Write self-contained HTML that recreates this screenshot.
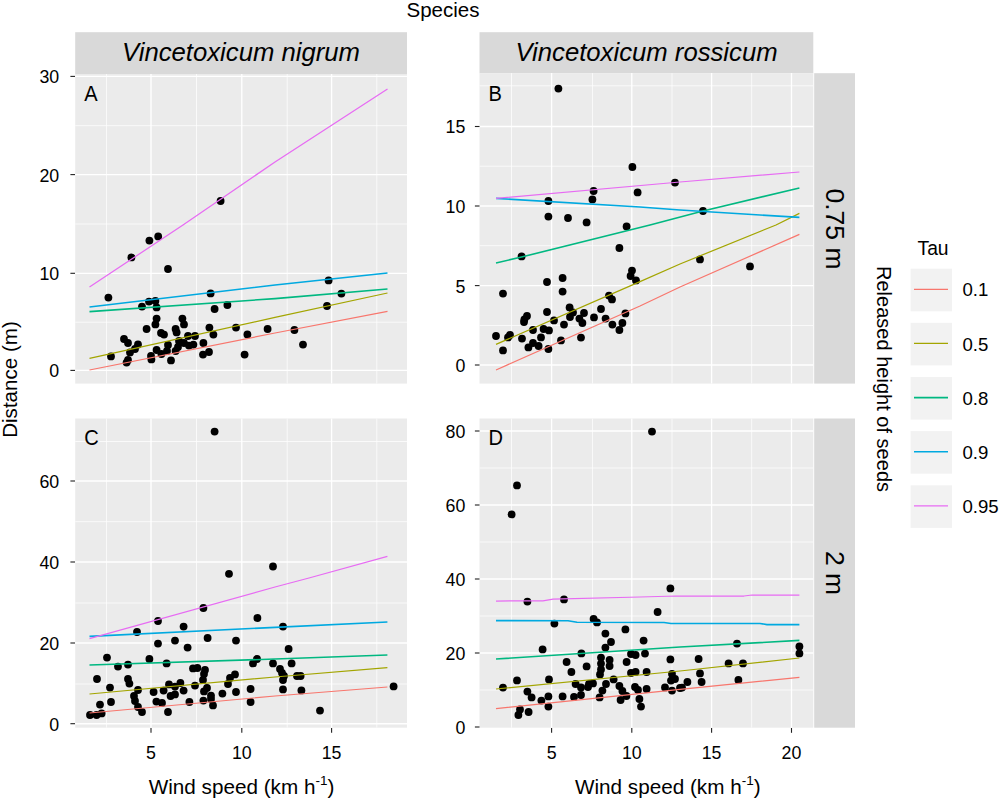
<!DOCTYPE html>
<html><head><meta charset="utf-8"><title>Quantile regression of seed dispersal</title>
<style>
html,body{margin:0;padding:0;background:#fff;}
body{width:1000px;height:800px;overflow:hidden;font-family:"Liberation Sans",sans-serif;}
svg{display:block;font-family:"Liberation Sans",sans-serif;}
text{fill:#000;}
.tick text{font-size:17.8px;fill:#000;}
</style></head><body>
<svg width="1000" height="800" viewBox="0 0 1000 800">
<rect x="0" y="0" width="1000" height="800" fill="#fff"/>
<rect x="75.2" y="32.2" width="331.8" height="42" fill="#D9D9D9"/>
<rect x="479.5" y="32.2" width="333.8" height="41" fill="#D9D9D9"/>
<rect x="814.2" y="73.2" width="40.8" height="310.4" fill="#D9D9D9"/>
<rect x="814.2" y="418.5" width="40.8" height="309.2" fill="#D9D9D9"/>
<text x="241" y="61.3" font-size="25.7" font-style="italic" text-anchor="middle">Vincetoxicum nigrum</text>
<text x="646.5" y="61.3" font-size="25.7" font-style="italic" text-anchor="middle">Vincetoxicum rossicum</text>
<text transform="translate(826,229) rotate(90)" font-size="26.5" text-anchor="middle">0.75 m</text>
<text transform="translate(826,573) rotate(90)" font-size="26.5" text-anchor="middle">2 m</text>
<text x="443" y="17" font-size="20.5" text-anchor="middle">Species</text>
<rect x="75.2" y="74.0" width="331.8" height="309.6" fill="#EBEBEB"/>
<g stroke="#fff" stroke-width="0.8" opacity="0.95">
<line x1="106.6" y1="74.0" x2="106.6" y2="383.6"/>
<line x1="196.5" y1="74.0" x2="196.5" y2="383.6"/>
<line x1="287.2" y1="74.0" x2="287.2" y2="383.6"/>
<line x1="376.8" y1="74.0" x2="376.8" y2="383.6"/>
<line x1="75.2" y1="125.7" x2="407" y2="125.7"/>
<line x1="75.2" y1="224" x2="407" y2="224"/>
<line x1="75.2" y1="322.2" x2="407" y2="322.2"/>
</g><g stroke="#fff" stroke-width="1.35">
<line x1="151" y1="74.0" x2="151" y2="383.6"/>
<line x1="241.8" y1="74.0" x2="241.8" y2="383.6"/>
<line x1="331.6" y1="74.0" x2="331.6" y2="383.6"/>
<line x1="75.2" y1="76.4" x2="407" y2="76.4"/>
<line x1="75.2" y1="174.6" x2="407" y2="174.6"/>
<line x1="75.2" y1="273.3" x2="407" y2="273.3"/>
<line x1="75.2" y1="370.4" x2="407" y2="370.4"/>
</g>
<g fill="#000">
<circle cx="149.4" cy="240.6" r="3.9"/>
<circle cx="158.2" cy="236.4" r="3.9"/>
<circle cx="131.4" cy="257.4" r="3.9"/>
<circle cx="168" cy="269" r="3.9"/>
<circle cx="108.4" cy="297.6" r="3.9"/>
<circle cx="210.6" cy="293.4" r="3.9"/>
<circle cx="149" cy="301.6" r="3.9"/>
<circle cx="155.4" cy="301" r="3.9"/>
<circle cx="142" cy="306.6" r="3.9"/>
<circle cx="156.6" cy="307.4" r="3.9"/>
<circle cx="227.4" cy="305" r="3.9"/>
<circle cx="214.6" cy="309" r="3.9"/>
<circle cx="156.6" cy="318.6" r="3.9"/>
<circle cx="155.4" cy="324.4" r="3.9"/>
<circle cx="182.4" cy="318.6" r="3.9"/>
<circle cx="184" cy="324.4" r="3.9"/>
<circle cx="146.6" cy="329" r="3.9"/>
<circle cx="175.6" cy="329" r="3.9"/>
<circle cx="176.6" cy="332.4" r="3.9"/>
<circle cx="161" cy="333" r="3.9"/>
<circle cx="164" cy="334.6" r="3.9"/>
<circle cx="209.4" cy="327.6" r="3.9"/>
<circle cx="213.4" cy="334.6" r="3.9"/>
<circle cx="236" cy="327.6" r="3.9"/>
<circle cx="247.4" cy="334.4" r="3.9"/>
<circle cx="267.6" cy="329" r="3.9"/>
<circle cx="124" cy="339" r="3.9"/>
<circle cx="128" cy="343" r="3.9"/>
<circle cx="138" cy="344.4" r="3.9"/>
<circle cx="135" cy="349" r="3.9"/>
<circle cx="130" cy="352.4" r="3.9"/>
<circle cx="111" cy="356.4" r="3.9"/>
<circle cx="128" cy="360" r="3.9"/>
<circle cx="126.6" cy="362.6" r="3.9"/>
<circle cx="151" cy="356" r="3.9"/>
<circle cx="151.4" cy="359.4" r="3.9"/>
<circle cx="156.6" cy="350" r="3.9"/>
<circle cx="161.4" cy="354" r="3.9"/>
<circle cx="167" cy="351" r="3.9"/>
<circle cx="168" cy="345" r="3.9"/>
<circle cx="171" cy="360.4" r="3.9"/>
<circle cx="175.6" cy="351" r="3.9"/>
<circle cx="178" cy="347" r="3.9"/>
<circle cx="179" cy="341" r="3.9"/>
<circle cx="184" cy="343" r="3.9"/>
<circle cx="188" cy="336" r="3.9"/>
<circle cx="195" cy="336" r="3.9"/>
<circle cx="189" cy="345.6" r="3.9"/>
<circle cx="193.4" cy="344.6" r="3.9"/>
<circle cx="203.4" cy="343" r="3.9"/>
<circle cx="203" cy="354.6" r="3.9"/>
<circle cx="209" cy="352" r="3.9"/>
<circle cx="244.6" cy="354.6" r="3.9"/>
<circle cx="220.6" cy="201" r="3.9"/>
<circle cx="328.6" cy="280.4" r="3.9"/>
<circle cx="341.4" cy="293.6" r="3.9"/>
<circle cx="327" cy="306" r="3.9"/>
<circle cx="294.4" cy="330" r="3.9"/>
<circle cx="303" cy="344.6" r="3.9"/>
</g>
<g fill="none" stroke-linejoin="round">
<polyline points="89.5,370 275,333 387.5,311.4" stroke="#F8766D" stroke-width="1.2"/>
<polyline points="89.5,358.4 275,317.4 387.5,293" stroke="#A3A500" stroke-width="1.25"/>
<polyline points="89.5,311.6 275,298.6 387.5,289" stroke="#00B881" stroke-width="1.6"/>
<polyline points="89.5,307 275,285 387.5,273" stroke="#00A9E0" stroke-width="1.6"/>
<polyline points="89.5,287 183,225 275,162 387.5,89" stroke="#E76BF3" stroke-width="1.25"/>
</g>
<text transform="translate(84.2,101) scale(0.9,1)" font-size="22.3">A</text>
<rect x="479.5" y="73.1" width="333.79999999999995" height="310.5" fill="#EBEBEB"/>
<g stroke="#fff" stroke-width="0.8" opacity="0.95">
<line x1="511.5" y1="73.1" x2="511.5" y2="383.6"/>
<line x1="592.6" y1="73.1" x2="592.6" y2="383.6"/>
<line x1="672" y1="73.1" x2="672" y2="383.6"/>
<line x1="751.7" y1="73.1" x2="751.7" y2="383.6"/>
<line x1="479.5" y1="85.8" x2="813.3" y2="85.8"/>
<line x1="479.5" y1="166.2" x2="813.3" y2="166.2"/>
<line x1="479.5" y1="245.7" x2="813.3" y2="245.7"/>
<line x1="479.5" y1="325.6" x2="813.3" y2="325.6"/>
</g><g stroke="#fff" stroke-width="1.35">
<line x1="551.6" y1="73.1" x2="551.6" y2="383.6"/>
<line x1="631.8" y1="73.1" x2="631.8" y2="383.6"/>
<line x1="711.6" y1="73.1" x2="711.6" y2="383.6"/>
<line x1="791.5" y1="73.1" x2="791.5" y2="383.6"/>
<line x1="479.5" y1="126.5" x2="813.3" y2="126.5"/>
<line x1="479.5" y1="206" x2="813.3" y2="206"/>
<line x1="479.5" y1="285.6" x2="813.3" y2="285.6"/>
<line x1="479.5" y1="365" x2="813.3" y2="365"/>
</g>
<g fill="#000">
<circle cx="558.4" cy="88.6" r="3.9"/>
<circle cx="632.4" cy="167" r="3.9"/>
<circle cx="675" cy="182.6" r="3.9"/>
<circle cx="593.6" cy="191" r="3.9"/>
<circle cx="637.6" cy="192.4" r="3.9"/>
<circle cx="592.4" cy="199.4" r="3.9"/>
<circle cx="548.4" cy="201" r="3.9"/>
<circle cx="548.4" cy="216.6" r="3.9"/>
<circle cx="568" cy="218" r="3.9"/>
<circle cx="586.6" cy="222.4" r="3.9"/>
<circle cx="626.6" cy="226.4" r="3.9"/>
<circle cx="703" cy="211" r="3.9"/>
<circle cx="619.4" cy="248" r="3.9"/>
<circle cx="521.6" cy="256.4" r="3.9"/>
<circle cx="632" cy="270.6" r="3.9"/>
<circle cx="630.6" cy="276" r="3.9"/>
<circle cx="636" cy="280.4" r="3.9"/>
<circle cx="562.6" cy="278" r="3.9"/>
<circle cx="547" cy="282" r="3.9"/>
<circle cx="562.6" cy="291.6" r="3.9"/>
<circle cx="503" cy="293.6" r="3.9"/>
<circle cx="609" cy="295.6" r="3.9"/>
<circle cx="612" cy="299.4" r="3.9"/>
<circle cx="569.6" cy="307.4" r="3.9"/>
<circle cx="547" cy="312" r="3.9"/>
<circle cx="601" cy="309" r="3.9"/>
<circle cx="573" cy="312.4" r="3.9"/>
<circle cx="584" cy="313" r="3.9"/>
<circle cx="625.4" cy="313.4" r="3.9"/>
<circle cx="527" cy="316" r="3.9"/>
<circle cx="524.4" cy="319.4" r="3.9"/>
<circle cx="524" cy="322" r="3.9"/>
<circle cx="570" cy="317" r="3.9"/>
<circle cx="594" cy="317.4" r="3.9"/>
<circle cx="579.4" cy="318.6" r="3.9"/>
<circle cx="605.6" cy="318.6" r="3.9"/>
<circle cx="554" cy="320.4" r="3.9"/>
<circle cx="582.4" cy="323" r="3.9"/>
<circle cx="564" cy="324.6" r="3.9"/>
<circle cx="612.4" cy="324.6" r="3.9"/>
<circle cx="622.4" cy="323" r="3.9"/>
<circle cx="619.4" cy="330" r="3.9"/>
<circle cx="533" cy="330" r="3.9"/>
<circle cx="543.6" cy="329" r="3.9"/>
<circle cx="549" cy="330.4" r="3.9"/>
<circle cx="496" cy="336" r="3.9"/>
<circle cx="510" cy="335" r="3.9"/>
<circle cx="508" cy="337.4" r="3.9"/>
<circle cx="522" cy="338.6" r="3.9"/>
<circle cx="541" cy="337.4" r="3.9"/>
<circle cx="581" cy="337.6" r="3.9"/>
<circle cx="561" cy="340.4" r="3.9"/>
<circle cx="533" cy="343" r="3.9"/>
<circle cx="538.6" cy="346" r="3.9"/>
<circle cx="528.4" cy="347.4" r="3.9"/>
<circle cx="548.4" cy="349" r="3.9"/>
<circle cx="503" cy="350.4" r="3.9"/>
<circle cx="700" cy="259.4" r="3.9"/>
<circle cx="750" cy="266.4" r="3.9"/>
</g>
<g fill="none" stroke-linejoin="round">
<polyline points="496,370 640,306 680,287 799.4,234.4" stroke="#F8766D" stroke-width="1.2"/>
<polyline points="496,344.4 640,281.6 680,264 776,225 799.4,213.4" stroke="#A3A500" stroke-width="1.25"/>
<polyline points="496,263 521.6,257 650,225 703,211 799.4,188" stroke="#00B881" stroke-width="1.6"/>
<polyline points="496,198.4 640,207 680,210 799.4,217.4" stroke="#00A9E0" stroke-width="1.6"/>
<polyline points="496,198.4 680,182 799.4,172" stroke="#E76BF3" stroke-width="1.25"/>
</g>
<text transform="translate(488.5,101) scale(0.9,1)" font-size="22.3">B</text>
<rect x="75.2" y="418.5" width="331.8" height="309.20000000000005" fill="#EBEBEB"/>
<g stroke="#fff" stroke-width="0.8" opacity="0.95">
<line x1="106.6" y1="418.5" x2="106.6" y2="727.7"/>
<line x1="196.5" y1="418.5" x2="196.5" y2="727.7"/>
<line x1="287.2" y1="418.5" x2="287.2" y2="727.7"/>
<line x1="376.8" y1="418.5" x2="376.8" y2="727.7"/>
<line x1="75.2" y1="441.5" x2="407" y2="441.5"/>
<line x1="75.2" y1="521.7" x2="407" y2="521.7"/>
<line x1="75.2" y1="603" x2="407" y2="603"/>
<line x1="75.2" y1="684" x2="407" y2="684"/>
</g><g stroke="#fff" stroke-width="1.35">
<line x1="151" y1="418.5" x2="151" y2="727.7"/>
<line x1="241.8" y1="418.5" x2="241.8" y2="727.7"/>
<line x1="331.6" y1="418.5" x2="331.6" y2="727.7"/>
<line x1="75.2" y1="481" x2="407" y2="481"/>
<line x1="75.2" y1="562" x2="407" y2="562"/>
<line x1="75.2" y1="643" x2="407" y2="643"/>
<line x1="75.2" y1="723.7" x2="407" y2="723.7"/>
</g>
<g fill="#000">
<circle cx="214.6" cy="431.6" r="3.9"/>
<circle cx="229" cy="573.8" r="3.9"/>
<circle cx="273" cy="566.5" r="3.9"/>
<circle cx="203.4" cy="608" r="3.9"/>
<circle cx="257.4" cy="618" r="3.9"/>
<circle cx="158" cy="621" r="3.9"/>
<circle cx="183.6" cy="626.6" r="3.9"/>
<circle cx="137" cy="632" r="3.9"/>
<circle cx="207.6" cy="638" r="3.9"/>
<circle cx="236" cy="640.6" r="3.9"/>
<circle cx="175" cy="640.6" r="3.9"/>
<circle cx="158" cy="643.6" r="3.9"/>
<circle cx="187.6" cy="647.6" r="3.9"/>
<circle cx="107" cy="657.6" r="3.9"/>
<circle cx="149.4" cy="659" r="3.9"/>
<circle cx="257" cy="659" r="3.9"/>
<circle cx="253" cy="663.4" r="3.9"/>
<circle cx="273" cy="663.4" r="3.9"/>
<circle cx="166.6" cy="663.4" r="3.9"/>
<circle cx="128" cy="664.6" r="3.9"/>
<circle cx="118" cy="666.6" r="3.9"/>
<circle cx="193" cy="668.4" r="3.9"/>
<circle cx="197.4" cy="668" r="3.9"/>
<circle cx="205" cy="670" r="3.9"/>
<circle cx="204" cy="674" r="3.9"/>
<circle cx="235" cy="674.4" r="3.9"/>
<circle cx="230" cy="678" r="3.9"/>
<circle cx="97" cy="679" r="3.9"/>
<circle cx="128" cy="679" r="3.9"/>
<circle cx="203" cy="680" r="3.9"/>
<circle cx="129.4" cy="683.6" r="3.9"/>
<circle cx="169" cy="684.4" r="3.9"/>
<circle cx="180.4" cy="683" r="3.9"/>
<circle cx="228" cy="684" r="3.9"/>
<circle cx="195" cy="685.6" r="3.9"/>
<circle cx="110" cy="687.6" r="3.9"/>
<circle cx="175" cy="686.6" r="3.9"/>
<circle cx="207" cy="688" r="3.9"/>
<circle cx="138" cy="690" r="3.9"/>
<circle cx="163.6" cy="690.6" r="3.9"/>
<circle cx="183.6" cy="690.6" r="3.9"/>
<circle cx="204" cy="691.4" r="3.9"/>
<circle cx="153.6" cy="692" r="3.9"/>
<circle cx="250.6" cy="689" r="3.9"/>
<circle cx="236" cy="692" r="3.9"/>
<circle cx="222.4" cy="693.6" r="3.9"/>
<circle cx="175" cy="694.4" r="3.9"/>
<circle cx="170.6" cy="696" r="3.9"/>
<circle cx="134" cy="696" r="3.9"/>
<circle cx="211" cy="695.6" r="3.9"/>
<circle cx="211" cy="699" r="3.9"/>
<circle cx="203.4" cy="700.6" r="3.9"/>
<circle cx="135" cy="701" r="3.9"/>
<circle cx="156.4" cy="701.6" r="3.9"/>
<circle cx="162" cy="703" r="3.9"/>
<circle cx="189.4" cy="702" r="3.9"/>
<circle cx="250.6" cy="702" r="3.9"/>
<circle cx="111" cy="702" r="3.9"/>
<circle cx="100" cy="704.6" r="3.9"/>
<circle cx="213" cy="705.4" r="3.9"/>
<circle cx="138" cy="707" r="3.9"/>
<circle cx="142" cy="712" r="3.9"/>
<circle cx="168" cy="712" r="3.9"/>
<circle cx="90" cy="715" r="3.9"/>
<circle cx="96.6" cy="715" r="3.9"/>
<circle cx="101.6" cy="713.4" r="3.9"/>
<circle cx="283" cy="626.6" r="3.9"/>
<circle cx="288.6" cy="649" r="3.9"/>
<circle cx="291.6" cy="663.4" r="3.9"/>
<circle cx="280" cy="669" r="3.9"/>
<circle cx="282" cy="673" r="3.9"/>
<circle cx="284" cy="676" r="3.9"/>
<circle cx="283" cy="680" r="3.9"/>
<circle cx="297" cy="676" r="3.9"/>
<circle cx="300.6" cy="676" r="3.9"/>
<circle cx="283" cy="689.4" r="3.9"/>
<circle cx="301.4" cy="690.4" r="3.9"/>
<circle cx="320" cy="710.6" r="3.9"/>
<circle cx="393.6" cy="686.4" r="3.9"/>
</g>
<g fill="none" stroke-linejoin="round">
<polyline points="89.5,713 275,696 387.4,687" stroke="#F8766D" stroke-width="1.2"/>
<polyline points="89.5,694 275,677 387.4,667.6" stroke="#A3A500" stroke-width="1.25"/>
<polyline points="89.5,665 275,659 387.4,655" stroke="#00B881" stroke-width="1.6"/>
<polyline points="89.5,636.4 275,627.4 387.4,622" stroke="#00A9E0" stroke-width="1.6"/>
<polyline points="89.5,638.6 275,587 309,578 387.4,556.4" stroke="#E76BF3" stroke-width="1.25"/>
</g>
<text transform="translate(84.2,445.2) scale(0.9,1)" font-size="22.3">C</text>
<rect x="479.5" y="418.5" width="333.79999999999995" height="309.20000000000005" fill="#EBEBEB"/>
<g stroke="#fff" stroke-width="0.8" opacity="0.95">
<line x1="511.5" y1="418.5" x2="511.5" y2="727.7"/>
<line x1="592.6" y1="418.5" x2="592.6" y2="727.7"/>
<line x1="672" y1="418.5" x2="672" y2="727.7"/>
<line x1="751.7" y1="418.5" x2="751.7" y2="727.7"/>
<line x1="479.5" y1="468" x2="813.3" y2="468"/>
<line x1="479.5" y1="542" x2="813.3" y2="542"/>
<line x1="479.5" y1="616" x2="813.3" y2="616"/>
<line x1="479.5" y1="690" x2="813.3" y2="690"/>
</g><g stroke="#fff" stroke-width="1.35">
<line x1="551.6" y1="418.5" x2="551.6" y2="727.7"/>
<line x1="631.8" y1="418.5" x2="631.8" y2="727.7"/>
<line x1="711.6" y1="418.5" x2="711.6" y2="727.7"/>
<line x1="791.5" y1="418.5" x2="791.5" y2="727.7"/>
<line x1="479.5" y1="431" x2="813.3" y2="431"/>
<line x1="479.5" y1="505" x2="813.3" y2="505"/>
<line x1="479.5" y1="579" x2="813.3" y2="579"/>
<line x1="479.5" y1="653" x2="813.3" y2="653"/>
</g>
<g fill="#000">
<circle cx="652" cy="431.6" r="3.9"/>
<circle cx="517" cy="485.4" r="3.9"/>
<circle cx="511.6" cy="514.4" r="3.9"/>
<circle cx="670.4" cy="588.4" r="3.9"/>
<circle cx="527.4" cy="601.6" r="3.9"/>
<circle cx="564" cy="599.4" r="3.9"/>
<circle cx="657.6" cy="612" r="3.9"/>
<circle cx="593.6" cy="619" r="3.9"/>
<circle cx="597" cy="622.4" r="3.9"/>
<circle cx="554.4" cy="623.6" r="3.9"/>
<circle cx="625.4" cy="629.4" r="3.9"/>
<circle cx="605.4" cy="633.6" r="3.9"/>
<circle cx="643.6" cy="640.6" r="3.9"/>
<circle cx="611" cy="642" r="3.9"/>
<circle cx="605.4" cy="647.6" r="3.9"/>
<circle cx="542.6" cy="649.4" r="3.9"/>
<circle cx="581.4" cy="653.4" r="3.9"/>
<circle cx="631" cy="654" r="3.9"/>
<circle cx="635.6" cy="655" r="3.9"/>
<circle cx="645" cy="653.6" r="3.9"/>
<circle cx="601" cy="657.6" r="3.9"/>
<circle cx="609.6" cy="660" r="3.9"/>
<circle cx="670.4" cy="659.4" r="3.9"/>
<circle cx="566.6" cy="662" r="3.9"/>
<circle cx="626.6" cy="662" r="3.9"/>
<circle cx="601" cy="663.6" r="3.9"/>
<circle cx="609.6" cy="666" r="3.9"/>
<circle cx="586.6" cy="666.4" r="3.9"/>
<circle cx="601" cy="669.4" r="3.9"/>
<circle cx="571.4" cy="672" r="3.9"/>
<circle cx="600" cy="674.4" r="3.9"/>
<circle cx="631" cy="673" r="3.9"/>
<circle cx="635.6" cy="672" r="3.9"/>
<circle cx="646.6" cy="672" r="3.9"/>
<circle cx="672" cy="674" r="3.9"/>
<circle cx="549" cy="679.4" r="3.9"/>
<circle cx="517" cy="680.4" r="3.9"/>
<circle cx="613.6" cy="679.4" r="3.9"/>
<circle cx="675" cy="679" r="3.9"/>
<circle cx="671" cy="680.6" r="3.9"/>
<circle cx="575.6" cy="684" r="3.9"/>
<circle cx="589" cy="684" r="3.9"/>
<circle cx="593" cy="683.4" r="3.9"/>
<circle cx="606" cy="684" r="3.9"/>
<circle cx="588" cy="687" r="3.9"/>
<circle cx="581" cy="687.4" r="3.9"/>
<circle cx="619.4" cy="686" r="3.9"/>
<circle cx="635" cy="687" r="3.9"/>
<circle cx="665" cy="687.4" r="3.9"/>
<circle cx="503" cy="687.6" r="3.9"/>
<circle cx="646.6" cy="689" r="3.9"/>
<circle cx="638" cy="690" r="3.9"/>
<circle cx="622.4" cy="691" r="3.9"/>
<circle cx="602.4" cy="690.6" r="3.9"/>
<circle cx="672" cy="690.6" r="3.9"/>
<circle cx="527.4" cy="691.6" r="3.9"/>
<circle cx="581" cy="695" r="3.9"/>
<circle cx="626.4" cy="696" r="3.9"/>
<circle cx="548.4" cy="696.4" r="3.9"/>
<circle cx="562.6" cy="696.4" r="3.9"/>
<circle cx="574" cy="697" r="3.9"/>
<circle cx="599.6" cy="697.4" r="3.9"/>
<circle cx="531.6" cy="697.4" r="3.9"/>
<circle cx="639.4" cy="699" r="3.9"/>
<circle cx="620.6" cy="700" r="3.9"/>
<circle cx="541.4" cy="700.6" r="3.9"/>
<circle cx="641" cy="706.6" r="3.9"/>
<circle cx="548.4" cy="706.6" r="3.9"/>
<circle cx="520" cy="709.4" r="3.9"/>
<circle cx="528.6" cy="712" r="3.9"/>
<circle cx="518.4" cy="715" r="3.9"/>
<circle cx="680" cy="688" r="3.9"/>
<circle cx="687.4" cy="682" r="3.9"/>
<circle cx="682" cy="687.6" r="3.9"/>
<circle cx="698.6" cy="659" r="3.9"/>
<circle cx="700" cy="673.4" r="3.9"/>
<circle cx="701.6" cy="682" r="3.9"/>
<circle cx="728.6" cy="663.4" r="3.9"/>
<circle cx="743" cy="663.4" r="3.9"/>
<circle cx="737" cy="643.6" r="3.9"/>
<circle cx="738.4" cy="680" r="3.9"/>
<circle cx="799.4" cy="646.4" r="3.9"/>
<circle cx="799.4" cy="653.4" r="3.9"/>
</g>
<g fill="none" stroke-linejoin="round">
<polyline points="496,708.6 680,689.4 799.4,677.4" stroke="#F8766D" stroke-width="1.2"/>
<polyline points="496,689 680,671 799.4,658" stroke="#A3A500" stroke-width="1.25"/>
<polyline points="496,659 680,647 799.4,640.4" stroke="#00B881" stroke-width="1.6"/>
<polyline points="496,620.6 568,620.7 577,622.3 664,622.5 671,623.5 760,623.5 767,624.6 799.4,624.6" stroke="#00A9E0" stroke-width="1.6"/>
<polyline points="496,601 543,600.8 553,599.2 640,597 676,596 744,596 752,595 799.4,595" stroke="#E76BF3" stroke-width="1.25"/>
</g>
<text transform="translate(488.5,445.2) scale(0.9,1)" font-size="22.3">D</text>
<g class="tick" stroke="#222" stroke-width="1.1">
<line x1="70.4" y1="76.4" x2="75" y2="76.4"/>
<text x="59.2" y="83.30000000000001" text-anchor="end" stroke="none">30</text>
<line x1="70.4" y1="174.6" x2="75" y2="174.6"/>
<text x="59.2" y="181.5" text-anchor="end" stroke="none">20</text>
<line x1="70.4" y1="273.3" x2="75" y2="273.3"/>
<text x="59.2" y="280.2" text-anchor="end" stroke="none">10</text>
<line x1="70.4" y1="370.4" x2="75" y2="370.4"/>
<text x="59.2" y="377.29999999999995" text-anchor="end" stroke="none">0</text>
<line x1="474.9" y1="126.5" x2="479.5" y2="126.5"/>
<text x="465.3" y="133.4" text-anchor="end" stroke="none">15</text>
<line x1="474.9" y1="206" x2="479.5" y2="206"/>
<text x="465.3" y="212.9" text-anchor="end" stroke="none">10</text>
<line x1="474.9" y1="285.6" x2="479.5" y2="285.6"/>
<text x="465.3" y="292.5" text-anchor="end" stroke="none">5</text>
<line x1="474.9" y1="365" x2="479.5" y2="365"/>
<text x="465.3" y="371.9" text-anchor="end" stroke="none">0</text>
<line x1="70.4" y1="481" x2="75" y2="481"/>
<text x="59.2" y="487.9" text-anchor="end" stroke="none">60</text>
<line x1="70.4" y1="562" x2="75" y2="562"/>
<text x="59.2" y="568.9" text-anchor="end" stroke="none">40</text>
<line x1="70.4" y1="643" x2="75" y2="643"/>
<text x="59.2" y="649.9" text-anchor="end" stroke="none">20</text>
<line x1="70.4" y1="723.7" x2="75" y2="723.7"/>
<text x="59.2" y="730.6" text-anchor="end" stroke="none">0</text>
<line x1="474.9" y1="431" x2="479.5" y2="431"/>
<text x="465.3" y="437.9" text-anchor="end" stroke="none">80</text>
<line x1="474.9" y1="505" x2="479.5" y2="505"/>
<text x="465.3" y="511.9" text-anchor="end" stroke="none">60</text>
<line x1="474.9" y1="579" x2="479.5" y2="579"/>
<text x="465.3" y="585.9" text-anchor="end" stroke="none">40</text>
<line x1="474.9" y1="653" x2="479.5" y2="653"/>
<text x="465.3" y="659.9" text-anchor="end" stroke="none">20</text>
<line x1="474.9" y1="727" x2="479.5" y2="727"/>
<text x="465.3" y="733.9" text-anchor="end" stroke="none">0</text>
<line x1="151" y1="728" x2="151" y2="732.8"/>
<text x="151" y="759" text-anchor="middle" stroke="none">5</text>
<line x1="241.8" y1="728" x2="241.8" y2="732.8"/>
<text x="241.8" y="759" text-anchor="middle" stroke="none">10</text>
<line x1="331.6" y1="728" x2="331.6" y2="732.8"/>
<text x="331.6" y="759" text-anchor="middle" stroke="none">15</text>
<line x1="551.6" y1="728" x2="551.6" y2="732.8"/>
<text x="551.6" y="759" text-anchor="middle" stroke="none">5</text>
<line x1="631.8" y1="728" x2="631.8" y2="732.8"/>
<text x="631.8" y="759" text-anchor="middle" stroke="none">10</text>
<line x1="711.6" y1="728" x2="711.6" y2="732.8"/>
<text x="711.6" y="759" text-anchor="middle" stroke="none">15</text>
<line x1="791.5" y1="728" x2="791.5" y2="732.8"/>
<text x="791.5" y="759" text-anchor="middle" stroke="none">20</text>
</g>
<text x="241.5" y="793.5" font-size="20.7" text-anchor="middle">Wind speed (km h<tspan font-size="13.5" dy="-8.5">-1</tspan><tspan dy="8.5">)</tspan></text>
<text x="667.8" y="793.5" font-size="20.7" text-anchor="middle">Wind speed (km h<tspan font-size="13.5" dy="-8.5">-1</tspan><tspan dy="8.5">)</tspan></text>
<text transform="translate(17,379.5) rotate(-90)" font-size="20.6" text-anchor="middle">Distance (m)</text>
<text transform="translate(876.5,379) rotate(90)" font-size="20.05" text-anchor="middle">Released height of seeds</text>
<text x="917.5" y="255.2" font-size="19.3">Tau</text>
<rect x="910.6" y="268.7" width="41.4" height="42.6" fill="#F2F2F2"/>
<line x1="914" y1="289.3" x2="948" y2="289.3" stroke="#F8766D" stroke-width="1.2"/>
<text x="962.5" y="296.4" font-size="18.6">0.1</text>
<rect x="910.6" y="322.8" width="41.4" height="42.6" fill="#F2F2F2"/>
<line x1="914" y1="343.4" x2="948" y2="343.4" stroke="#A3A500" stroke-width="1.25"/>
<text x="962.5" y="350.6" font-size="18.6">0.5</text>
<rect x="910.6" y="377.0" width="41.4" height="42.6" fill="#F2F2F2"/>
<line x1="914" y1="397.6" x2="948" y2="397.6" stroke="#00B881" stroke-width="1.6"/>
<text x="962.5" y="404.7" font-size="18.6">0.8</text>
<rect x="910.6" y="431.1" width="41.4" height="42.6" fill="#F2F2F2"/>
<line x1="914" y1="451.8" x2="948" y2="451.8" stroke="#00A9E0" stroke-width="1.6"/>
<text x="962.5" y="458.9" font-size="18.6">0.9</text>
<rect x="910.6" y="485.3" width="41.4" height="42.6" fill="#F2F2F2"/>
<line x1="914" y1="505.9" x2="948" y2="505.9" stroke="#E76BF3" stroke-width="1.25"/>
<text x="962.5" y="513.0" font-size="18.6">0.95</text>
</svg></body></html>
